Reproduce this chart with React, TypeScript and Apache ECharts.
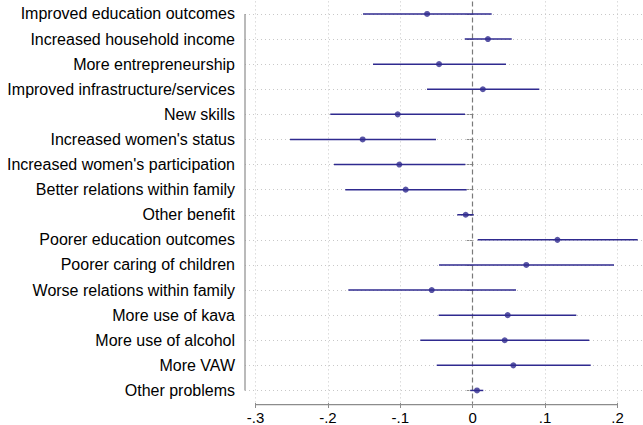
import React, { useEffect, useRef } from "react";
import * as echarts from "echarts";

// Outcome categories, top to bottom
const categories = [
  "Improved education outcomes",
  "Increased household income",
  "More entrepreneurship",
  "Improved infrastructure/services",
  "New skills",
  "Increased women's status",
  "Increased women's participation",
  "Better relations within family",
  "Other benefit",
  "Poorer education outcomes",
  "Poorer caring of children",
  "Worse relations within family",
  "More use of kava",
  "More use of alcohol",
  "More VAW",
  "Other problems",
];

// Point estimates and 95% confidence bounds
const estimates = [
  -0.063, 0.021, -0.0465, 0.014, -0.1036, -0.152, -0.1014, -0.0926, -0.0097,
  0.117, 0.074, -0.0566, 0.0483, 0.0442, 0.0561, 0.0059,
];
const lower = [
  -0.1515, -0.011, -0.1377, -0.0631, -0.1967, -0.2523, -0.1916, -0.176,
  -0.0213, 0.0069, -0.0465, -0.1718, -0.047, -0.0724, -0.0497, -0.0033,
];
const upper = [
  0.0262, 0.0539, 0.046, 0.092, -0.0106, -0.0507, -0.0102, -0.0083, 0.0014,
  0.2279, 0.1952, 0.0598, 0.1431, 0.161, 0.163, 0.0146,
];

// X axis tick values
const xTicks = [-0.3, -0.2, -0.1, 0, 0.1, 0.2];

const NAVY = "#2f2a8f";
const AXIS_GRAY = "#8c8c8c";
const GRID_GRAY = "#c8c8c8";
const FONT = "Liberation Sans, Arial, Helvetica, sans-serif";

const fmtTick = (v: number) => {
  if (Math.abs(v) < 1e-9) return "0";
  const d = Math.round(Math.abs(v) * 10);
  return (v < 0 ? "-" : "") + "." + d;
};

export default function App() {
  const ref = useRef<HTMLDivElement>(null);

  useEffect(() => {
    if (!ref.current) return;
    const chart = echarts.init(ref.current, null, { renderer: "svg" });

    const ciData = categories.map((c, i) => [lower[i], upper[i], i]);
    const pointData = categories.map((c, i) => [estimates[i], c]);

    chart.setOption({
      animation: false,
      backgroundColor: "#ffffff",
      grid: { left: 245, right: 0, top: 1.4, bottom: 20.4, containLabel: false },
      xAxis: {
        type: "value",
        min: -0.3145,
        max: 0.2352,
        axisLine: { show: false },
        splitLine: { show: false },
        axisTick: {
          show: true,
          customValues: xTicks,
          length: 5,
          lineStyle: { color: AXIS_GRAY, width: 1 },
        },
        axisLabel: {
          customValues: xTicks,
          formatter: fmtTick,
          color: "#000",
          fontFamily: FONT,
          fontSize: 15,
          margin: 7,
        },
      },
      yAxis: {
        type: "category",
        data: categories,
        inverse: true,
        axisLine: { show: false },
        splitLine: { show: false },
        axisTick: {
          show: true,
          alignWithLabel: true,
          length: 6,
          lineStyle: { color: AXIS_GRAY, width: 1 },
        },
        axisLabel: {
          color: "#000",
          fontFamily: FONT,
          fontSize: 16,
          margin: 10,
        },
      },
      series: [
        {
          // reference lines: grid and zero line
          type: "line",
          data: [],
          silent: true,
          z: 1,
          markLine: {
            silent: true,
            z: 1,
            symbol: "none",
            label: { show: false },
            animation: false,
            data: [
              ...categories.map((c) => ({
                yAxis: c,
                lineStyle: { color: GRID_GRAY, type: [1, 3], width: 1 },
              })),
              ...xTicks
                .filter((v) => Math.abs(v) > 1e-9)
                .map((v) => ({
                  xAxis: v,
                  lineStyle: { color: GRID_GRAY, type: [1, 3], width: 1 },
                })),
              {
                xAxis: 0,
                lineStyle: { color: "#7a7a7a", type: [5, 3], width: 1.2 },
              },
            ],
          },
        },
        {
          type: "custom",
          z: 3,
          data: ciData,
          encode: { x: [0, 1], y: 2 },
          renderItem: (params: any, api: any) => {
            const idx = api.value(2);
            const p1 = api.coord([api.value(0), idx]);
            const p2 = api.coord([api.value(1), idx]);
            return {
              type: "line",
              shape: { x1: p1[0], y1: p1[1], x2: p2[0], y2: p2[1] },
              style: { stroke: NAVY, lineWidth: 1.5 },
            };
          },
        },
        {
          type: "scatter",
          z: 4,
          data: pointData,
          symbol: "circle",
          symbolSize: 6,
          itemStyle: { color: NAVY },
        },
      ],
    });

    // Axis lines spanning only the tick range
    const x0 = chart.convertToPixel({ xAxisIndex: 0 }, xTicks[0]) as number;
    const x1 = chart.convertToPixel(
      { xAxisIndex: 0 },
      xTicks[xTicks.length - 1]
    ) as number;
    const yTop = chart.convertToPixel({ yAxisIndex: 0 }, 0) as number;
    const yBot = chart.convertToPixel(
      { yAxisIndex: 0 },
      categories.length - 1
    ) as number;
    const bottom = 425 - 20.4;
    chart.setOption({
      graphic: [
        {
          type: "line",
          silent: true,
          shape: { x1: x0, y1: bottom, x2: x1, y2: bottom },
          style: { stroke: AXIS_GRAY, lineWidth: 1.2 },
          z: 10,
        },
        {
          type: "line",
          silent: true,
          shape: { x1: 245, y1: yTop, x2: 245, y2: yBot },
          style: { stroke: AXIS_GRAY, lineWidth: 1.2 },
          z: 10,
        },
      ],
    });

    return () => chart.dispose();
  }, []);

  return (
    <div
      ref={ref}
      style={{ position: "fixed", left: 0, top: 0, width: 643, height: 425 }}
    />
  );
}
